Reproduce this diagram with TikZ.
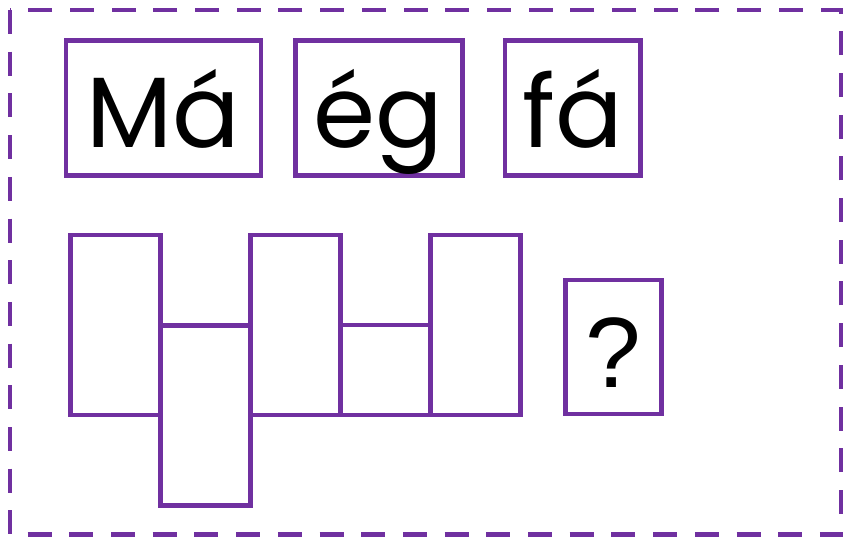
\documentclass[tikz,border=0pt]{standalone}
\usepackage{fontspec}
\setmainfont{Poppins}
\newfontfamily\qfont{Liberation Sans}
\usepackage{tikz}
\usetikzlibrary{positioning}
\definecolor{gridpurple}{RGB}{112,48,160}

\begin{document}
\begin{tikzpicture}[x=1pt, y=-1pt, font=\fontsize{100}{110}\selectfont, word/.style={draw=gridpurple, line width=4.7pt, inner sep=0pt, outer sep=0pt, minimum height=135pt, text height=78.6pt, text depth=0pt}, cell/.style={draw=gridpurple, line width=4.7pt, inner sep=0pt, outer sep=0pt, minimum width=90pt}]
\useasboundingbox (0,0) rectangle (848,539);
\draw[gridpurple, line width=4.7pt, dash pattern=on 24pt off 17.7pt] (10,10) rectangle (841,534.5);
\node[word, minimum width=195pt] (ma) at (163.5,107.7) {Má};
\node[word, minimum width=167pt] (eg) at (378.7,107.7) {ég};
\node[word, minimum width=135.7pt] (fa) at (572.8,107.7) {fá};
\node[cell, minimum height=180pt] (c1) at (115.7,325) {};
\node[cell, minimum height=180pt, anchor=north west] (c2) at (c1.east |- 0,325.3) {};
\node[cell, minimum height=180pt, anchor=north west] (c3) at (c2.east |- c1.north) {};
\node[cell, minimum height=90pt, anchor=south west] (c4) at (c3.south east) {};
\node[cell, minimum height=180pt, anchor=south west] (c5) at (c4.south east) {};
\node[cell, minimum width=96pt, minimum height=134pt, text height=80pt, text depth=0pt, font=\qfont\fontsize{100}{110}\selectfont] (q) at (613.7,347) {?};
\end{tikzpicture}
\end{document}
